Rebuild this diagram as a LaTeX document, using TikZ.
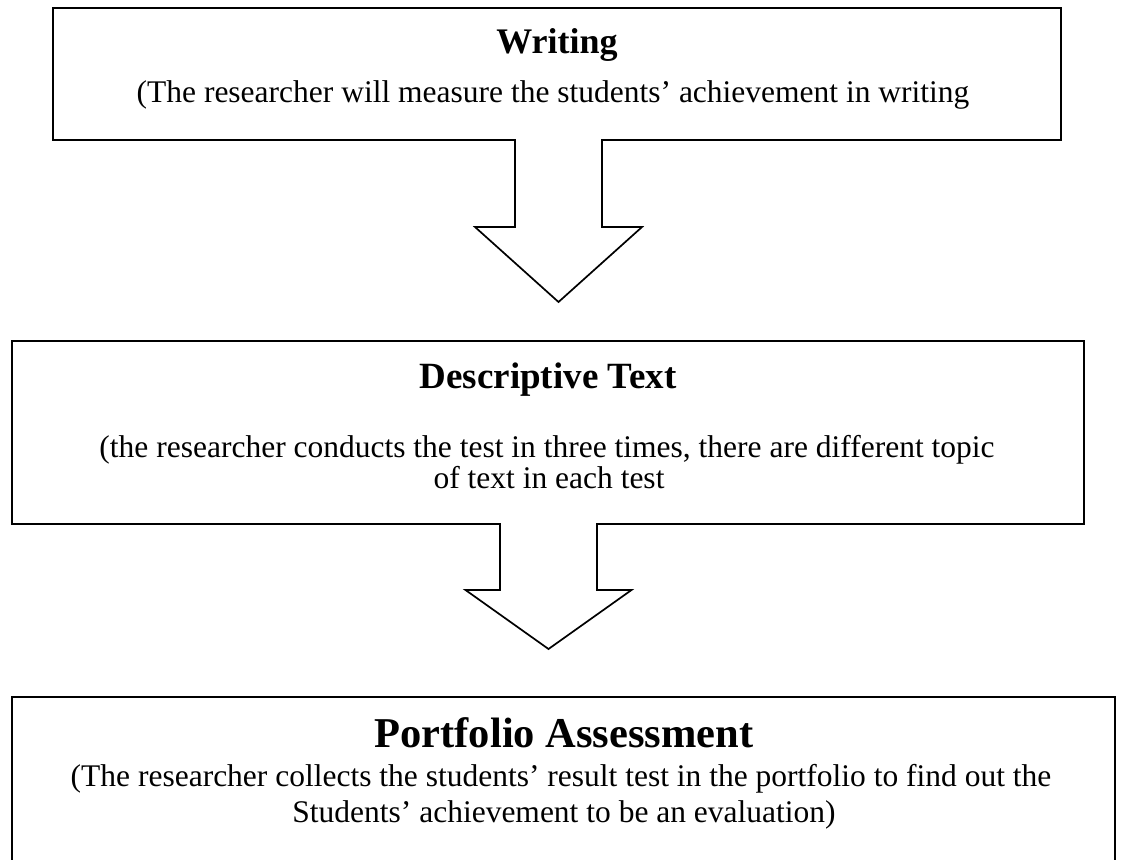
\documentclass[tikz,border=0pt]{standalone}
\usepackage{fontspec}
\setmainfont{Liberation Serif}
\usetikzlibrary{calc}
\tikzset{
  box/.style={draw, line width=1.7pt, rectangle, inner sep=0pt, outer sep=0pt},
  blockarrow/.style={draw, fill=white, line width=1.7pt, line join=miter},
  eraser/.style={fill=white},
  body/.style={anchor=base, inner sep=0pt, font=\fontsize{31.5}{36}\selectfont},
  ttl/.style={anchor=base, inner sep=0pt, font=\fontsize{#1}{#1}\selectfont\bfseries},
}
\begin{document}
\begin{tikzpicture}[x=1pt,y=-1pt]
\useasboundingbox (0,0) rectangle (1123,859);
\clip (0,0) rectangle (1123,859);
% boxes
\node[box, minimum width=1008pt, minimum height=132pt] (b1) at (557,74) {};
\node[box, minimum width=1072pt, minimum height=183pt] (b2) at (548,432.5) {};
\node[box, minimum width=1103pt, minimum height=180pt] (b3) at (563.5,787) {};
% texts
\node[ttl=36] (t1) at (557,54) {Writing};
\node[body] (d1) at (553,102) {(The researcher will measure the students’ achievement in writing};
\node[ttl=37] (t2) at (548,388) {Descriptive Text};
\node[body] (d2a) at (547,457) {(the researcher conducts the test in three times, there are different topic};
\node[body] (d2b) at (549,488) {of text in each test};
\node[ttl=42.5] (t3) at (564,747) {Portfolio Assessment};
\node[body] (d3a) at (561,786) {(The researcher collects the students’ result test in the portfolio to find out the};
\node[body] (d3b) at (564,822) {Students’ achievement to be an evaluation)};
% arrow 1 : from b1 to b2
\coordinate (a1) at ($(b1.south)+(1.5,0)$);
\fill[eraser] ($(a1)+(-42.5,-2)$) rectangle ($(a1)+(42.5,2)$);
\draw[blockarrow] ($(a1)+(-43.5,0)$) -- ++(0,87) -- ++(-40,0)
  -- ($(a1)+(0,162)$) -- ($(a1)+(83.5,87)$) -- ++(-40,0) -- ++(0,-87);
% arrow 2 : from b2 to b3
\coordinate (a2) at ($(b2.south)+(0.5,0)$);
\fill[eraser] ($(a2)+(-47.5,-2)$) rectangle ($(a2)+(47.5,2)$);
\draw[blockarrow] ($(a2)+(-48.5,0)$) -- ++(0,66) -- ++(-34.5,0)
  -- ($(a2)+(0,125)$) -- ($(a2)+(83,66)$) -- ++(-34.5,0) -- ++(0,-66);
\end{tikzpicture}
\end{document}
